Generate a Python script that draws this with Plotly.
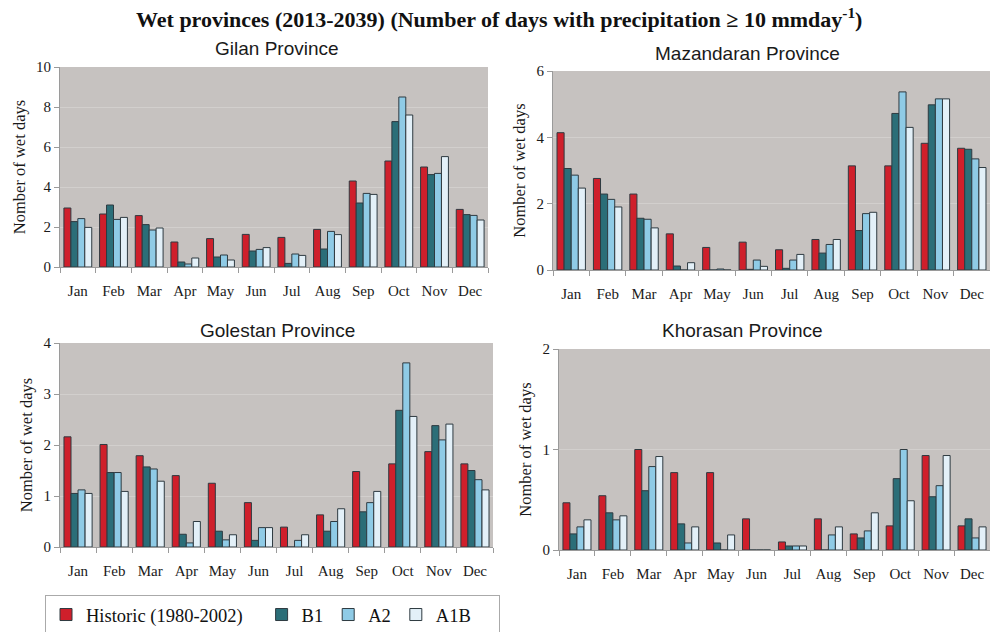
import plotly.graph_objects as go

months = ["Jan", "Feb", "Mar", "Apr", "May", "Jun", "Jul", "Aug", "Sep", "Oct", "Nov", "Dec"]
series_names = ["Historic (1980-2002)", "B1", "A2", "A1B"]

gilan_hist = [2.95, 2.65, 2.57, 1.25, 1.42, 1.63, 1.48, 1.88, 4.30, 5.30, 5.00, 2.88]
gilan_b1 = [2.27, 3.10, 2.12, 0.25, 0.50, 0.80, 0.18, 0.90, 3.20, 7.27, 4.62, 2.62]
gilan_a2 = [2.42, 2.38, 1.85, 0.15, 0.60, 0.88, 0.65, 1.78, 3.68, 8.50, 4.68, 2.58]
gilan_a1b = [1.98, 2.48, 1.95, 0.45, 0.35, 0.97, 0.58, 1.62, 3.63, 7.60, 5.52, 2.35]

maz_hist = [4.14, 2.76, 2.29, 1.09, 0.68, 0.84, 0.61, 0.92, 3.14, 3.14, 3.82, 3.67]
maz_b1 = [3.06, 2.29, 1.56, 0.12, 0.00, 0.02, 0.05, 0.51, 1.19, 4.72, 4.98, 3.64]
maz_a2 = [2.86, 2.13, 1.53, 0.00, 0.03, 0.30, 0.30, 0.77, 1.70, 5.37, 5.16, 3.35]
maz_a1b = [2.47, 1.90, 1.27, 0.22, 0.00, 0.11, 0.47, 0.92, 1.74, 4.30, 5.16, 3.09]

gol_hist = [2.16, 2.01, 1.79, 1.40, 1.25, 0.87, 0.39, 0.63, 1.48, 1.63, 1.87, 1.63]
gol_b1 = [1.05, 1.46, 1.57, 0.25, 0.31, 0.13, 0.00, 0.31, 0.69, 2.68, 2.38, 1.50]
gol_a2 = [1.12, 1.46, 1.53, 0.08, 0.14, 0.38, 0.13, 0.50, 0.87, 3.61, 2.10, 1.32]
gol_a1b = [1.05, 1.09, 1.29, 0.50, 0.24, 0.38, 0.24, 0.75, 1.09, 2.56, 2.41, 1.12]

kho_hist = [0.47, 0.54, 1.00, 0.77, 0.77, 0.31, 0.08, 0.31, 0.16, 0.24, 0.94, 0.24]
kho_b1 = [0.16, 0.37, 0.59, 0.26, 0.07, 0.00, 0.04, 0.00, 0.12, 0.71, 0.53, 0.31]
kho_a2 = [0.23, 0.30, 0.83, 0.07, 0.00, 0.00, 0.04, 0.15, 0.19, 1.00, 0.64, 0.12]
kho_a1b = [0.30, 0.34, 0.93, 0.23, 0.15, 0.00, 0.04, 0.23, 0.37, 0.49, 0.94, 0.23]

colors = ["#cf1f2b", "#2b6e78", "#8fcbe6", "#e3f0f8"]
# trailing no-break spaces widen legend entries to match the reference spacing
legend_pad = ["\u00a0" * 3, "", "", "\u00a0" * 5]

H = 632.0
W = 990.0


def px_x(p):
    return p / W


def px_y(p):
    return 1 - p / H


# (title, data, ymax, dtick, x-domain px, y-domain px (bottom, top), title center px)
panels = [
    ("Gilan Province", [gilan_hist, gilan_b1, gilan_a2, gilan_a1b], 10, 2,
     (60, 488), (267, 67), (277, 49)),
    ("Mazandaran Province", [maz_hist, maz_b1, maz_a2, maz_a1b], 6, 2,
     (553, 993), (270, 71), (747, 53)),
    ("Golestan Province", [gol_hist, gol_b1, gol_a2, gol_a1b], 4, 1,
     (60, 493), (547, 343), (277, 330)),
    ("Khorasan Province", [kho_hist, kho_b1, kho_a2, kho_a1b], 2, 1,
     (559, 993), (550, 349), (742, 330)),
]

fig = go.Figure()
serif = "Liberation Serif, Times New Roman, serif"
sans = "Liberation Sans, Arial, sans-serif"

layout_axes = {}
annotations = []
for i, (title, data, ymax, dt, xpx, ypx, tpx) in enumerate(panels):
    n = "" if i == 0 else str(i + 1)
    xd = [px_x(xpx[0]), min(px_x(xpx[1]), 1.0)]
    yd = [px_y(ypx[0]), px_y(ypx[1])]
    for j, vals in enumerate(data):
        fig.add_trace(go.Bar(
            x=months, y=vals, name=series_names[j] + legend_pad[j],
            marker=dict(color=colors[j], line=dict(color="#2e3a40", width=1)),
            xaxis="x" + n, yaxis="y" + n,
            showlegend=(i == 0), legendgroup=series_names[j],
        ))
    layout_axes["xaxis" + n] = dict(
        domain=xd, anchor="y" + n, type="category", range=[-0.5, 11.5],
        automargin=False, tickangle=0,
        showline=True, linecolor="#9a9a9a", linewidth=1, mirror=False,
        ticks="outside", ticklen=5, tickcolor="#9a9a9a", tickson="boundaries",
        ticklabelstandoff=10,
        tickfont=dict(family=serif, size=15, color="#1a1a1a"), showgrid=False,
    )
    layout_axes["yaxis" + n] = dict(
        domain=yd, anchor="x" + n, range=[0, ymax], dtick=dt,
        automargin=False,
        showline=True, linecolor="#9a9a9a", linewidth=1,
        ticks="outside", ticklen=5, tickcolor="#9a9a9a",
        tickfont=dict(family=serif, size=15, color="#1a1a1a"),
        showgrid=True, gridcolor="#d2cfcd", gridwidth=1, zeroline=False,
        title=dict(text="Nomber of wet days", font=dict(family=serif, size=16.5, color="#1a1a1a"),
                   standoff=6),
    )
    annotations.append(dict(
        text=title, xref="paper", yref="paper",
        x=px_x(tpx[0]), y=px_y(tpx[1]), xanchor="center", yanchor="middle",
        showarrow=False, font=dict(family=sans, size=19, color="#1a1a1a"),
    ))

annotations.append(dict(
    text="<b>Wet provinces (2013-2039) (Number of days with precipitation \u2265 10 mmday<sup>-1</sup>)</b>",
    xref="paper", yref="paper", x=px_x(499), y=px_y(18), xanchor="center", yanchor="middle",
    showarrow=False, font=dict(family=serif, size=22, color="#111111"),
))

fig.update_layout(
    width=990, height=632,
    margin=dict(l=0, r=0, t=0, b=0, autoexpand=False),
    paper_bgcolor="white", plot_bgcolor="#c6c2c0",
    barmode="group", bargap=0.22, bargroupgap=0.0,
    annotations=annotations,
    legend=dict(
        orientation="h", x=px_x(45), y=px_y(595), xanchor="left", yanchor="top",
        bordercolor="#aaaaaa", borderwidth=1, bgcolor="white",
        font=dict(family=serif, size=18.5, color="#111111"),
        traceorder="normal", itemwidth=30,
    ),
    **layout_axes,
)

fig.write_html(
    "out.html",
    config={"displayModeBar": False},
    post_script="document.body.style.margin='0px';document.body.style.overflow='hidden';",
)
